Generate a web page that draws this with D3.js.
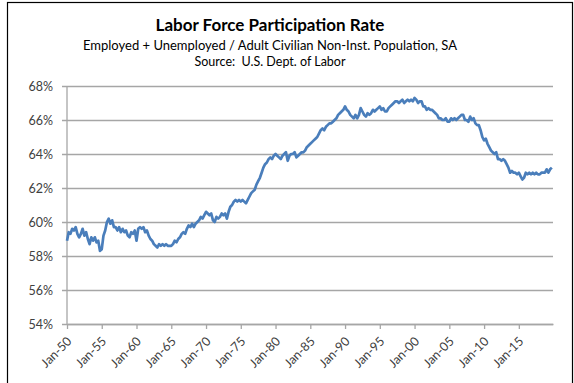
<!DOCTYPE html>
<html lang="en">
<head>
    <meta charset="UTF-8">
    <title>Labor Force Participation Rate</title>
    <script src="https://d3js.org/d3.v7.min.js"></script>
    <style>
        body { margin: 0; background: #fff; }
        text { font-family: Lato, "Open Sans", sans-serif; }
    </style>
</head>
<body>
<script>
    // quarterly readings (Jan, Apr, Jul, Oct), starting Jan-1950
    var startYear = 1950;
    var rates = [
        58.9, 59.4, 59.3, 59.6,   59.5, 59.7, 59.3, 59.1,   59.3, 59.6, 59.2, 59.4,
        59.0, 58.7, 59.1, 58.9,   59.1, 58.8, 58.9, 58.3,   58.4, 59.2, 59.5, 60.0,
        60.2, 59.9, 60.1, 59.7,   59.7, 59.5, 59.7, 59.4,   59.6, 59.4, 59.5, 59.2,
        59.1, 59.4, 59.3, 59.5,   58.9, 59.6, 59.7, 59.6,   59.7, 59.4, 59.5, 59.2,
        59.0, 58.9, 58.7, 58.6,   58.5, 58.7, 58.6, 58.7,   58.6, 58.7, 58.6, 58.6,
        58.6, 58.7, 58.9, 58.8,   59.0, 59.1, 59.3, 59.4,   59.3, 59.6, 59.8, 59.7,
        59.9, 59.7, 59.9, 60.0,   60.1, 60.3, 60.2, 60.4,   60.6, 60.5, 60.4, 60.5,
        60.1, 60.0, 60.3, 60.2,   60.3, 60.5, 60.4, 60.5,   60.2, 60.6, 60.9, 61.0,
        61.2, 61.3, 61.2, 61.3,   61.2, 61.3, 61.2, 61.1,   61.3, 61.5, 61.7, 61.8,
        61.9, 62.2, 62.4, 62.6,   62.9, 63.2, 63.4, 63.5,   63.7, 63.8, 63.7, 63.9,
        64.0, 63.9, 63.8, 63.7,   63.9, 64.0, 64.1, 63.6,   63.9, 64.0, 64.0, 64.1,
        63.8, 63.9, 64.0, 64.1,   64.1, 64.2, 64.4, 64.5,   64.6, 64.7, 64.8, 64.9,
        65.0, 65.2, 65.4, 65.5,   65.4, 65.6, 65.7, 65.8,   65.8, 65.9, 66.0, 66.1,
        66.3, 66.4, 66.5, 66.6,   66.8, 66.6, 66.5, 66.3,   66.2, 66.1, 66.3, 66.1,
        66.3, 66.7, 66.5, 66.3,   66.2, 66.4, 66.3, 66.4,   66.6, 66.5, 66.6, 66.7,
        66.8, 66.6, 66.7, 66.5,   66.5, 66.7, 66.8, 66.9,   67.0, 67.1, 67.1, 67.0,
        67.1, 67.2, 67.0, 67.1,   67.2, 67.1, 67.2, 67.1,   67.3, 67.2, 67.0, 67.1,
        67.1, 66.8, 66.8, 66.6,   66.7, 66.6, 66.6, 66.5,   66.4, 66.3, 66.1, 66.1,
        66.0, 66.0, 66.1, 65.9,   65.9, 66.1, 66.0, 66.1,   66.0, 66.1, 66.2, 66.3,
        66.3, 66.0, 66.0, 65.9,   66.2, 66.0, 66.1, 65.8,   65.7, 65.7, 65.4, 65.0,
        64.8, 64.9, 64.6, 64.4,   64.2, 64.1, 64.0, 64.1,   63.7, 63.7, 63.6, 63.7,
        63.6, 63.4, 63.2, 62.9,   63.0, 62.9, 62.9, 62.8,   62.9, 62.7, 62.5, 62.6,
        62.9, 62.8, 62.9, 62.8,   62.9, 62.8, 62.9, 62.8,   62.8, 62.9, 62.9, 62.9,
        63.1, 62.9, 63.1, 63.2
    ];
    var yTicks = [54, 56, 58, 60, 62, 64, 66, 68];
    var xTickYears = [1950, 1955, 1960, 1965, 1970, 1975, 1980, 1985, 1990, 1995,
                      2000, 2005, 2010, 2015];

    var title = "Labor Force Participation Rate";
    var subtitle = "Employed + Unemployed / Adult Civilian Non-Inst. Population, SA";
    var source = "Source:  U.S. Dept. of Labor";

    var data = rates.map(function (v, i) {
        return { date: new Date(startYear + Math.floor(i / 4), (i % 4) * 3, 1), value: v };
    });

    var width = 574,
        height = 383;

    var svg = d3.select("body").append("svg")
        .attr("width", width)
        .attr("height", height);

    // outer frame of the chart object
    svg.append("rect")
        .attr("x", 7.5).attr("y", 2.5)
        .attr("width", 565).attr("height", 400)
        .attr("fill", "#fff")
        .attr("stroke", "#000")
        .attr("stroke-width", 1.2);

    var x = d3.scaleTime()
        .domain([new Date(1950, 0, 1), new Date(2019, 11, 1)])
        .range([67, 553]);

    var y = d3.scaleLinear()
        .domain([54, 68])
        .range([324, 86]);

    // gridlines + y axis
    var yAxis = d3.axisLeft(y)
        .tickValues(yTicks)
        .tickSize(-(553 - 62))
        .tickSizeOuter(0)
        .tickPadding(9)
        .tickFormat(function (d) { return d + "%"; });

    var gy = svg.append("g")
        .attr("transform", "translate(62,0)")
        .call(yAxis);
    gy.select(".domain").remove();
    gy.selectAll("line").attr("stroke", "#a6a6a6").attr("stroke-width", 1.3);
    gy.selectAll("text")
        .attr("fill", "#404040")
        .attr("font-size", "12.5px");

    svg.append("line")
        .attr("x1", 67).attr("x2", 67)
        .attr("y1", 86).attr("y2", 324)
        .attr("stroke", "#a6a6a6")
        .attr("stroke-width", 1.3);

    // x axis
    var xAxis = d3.axisBottom(x)
        .tickValues(xTickYears.map(function (yr) { return new Date(yr, 0, 1); }))
        .tickSize(5)
        .tickSizeOuter(0)
        .tickFormat(d3.timeFormat("Jan-%y"));

    var gx = svg.append("g")
        .attr("transform", "translate(0,324)")
        .call(xAxis);
    gx.select(".domain").attr("stroke", "#a6a6a6").attr("stroke-width", 1.3);
    gx.selectAll("line").attr("stroke", "#a6a6a6").attr("stroke-width", 1.3);
    gx.selectAll("text")
        .attr("fill", "#404040")
        .attr("font-size", "12.5px")
        .attr("text-anchor", "end")
        .attr("dx", 0)
        .attr("dy", 0)
        .attr("transform", "translate(5,18) rotate(-45)")
        .attr("y", 0)
        .attr("x", 0);

    // the series
    var line = d3.line()
        .x(function (d) { return x(d.date); })
        .y(function (d) { return y(d.value); });

    svg.append("path")
        .datum(data)
        .attr("fill", "none")
        .attr("stroke", "#4a7ebb")
        .attr("stroke-width", 2.7)
        .attr("stroke-linejoin", "round")
        .attr("d", line);

    // titles
    svg.append("text")
        .attr("x", 270).attr("y", 31)
        .attr("text-anchor", "middle")
        .attr("font-size", "17px")
        .attr("font-weight", "bold")
        .attr("fill", "#000")
        .text(title);

    svg.append("text")
        .attr("x", 270).attr("y", 50)
        .attr("text-anchor", "middle")
        .attr("font-size", "13px")
        .attr("fill", "#000")
        .text(subtitle);

    svg.append("text")
        .attr("x", 270).attr("y", 66)
        .attr("text-anchor", "middle")
        .attr("font-size", "12.5px")
        .attr("fill", "#000")
        .style("white-space", "pre")
        .text(source);
</script>
</body>
</html>
